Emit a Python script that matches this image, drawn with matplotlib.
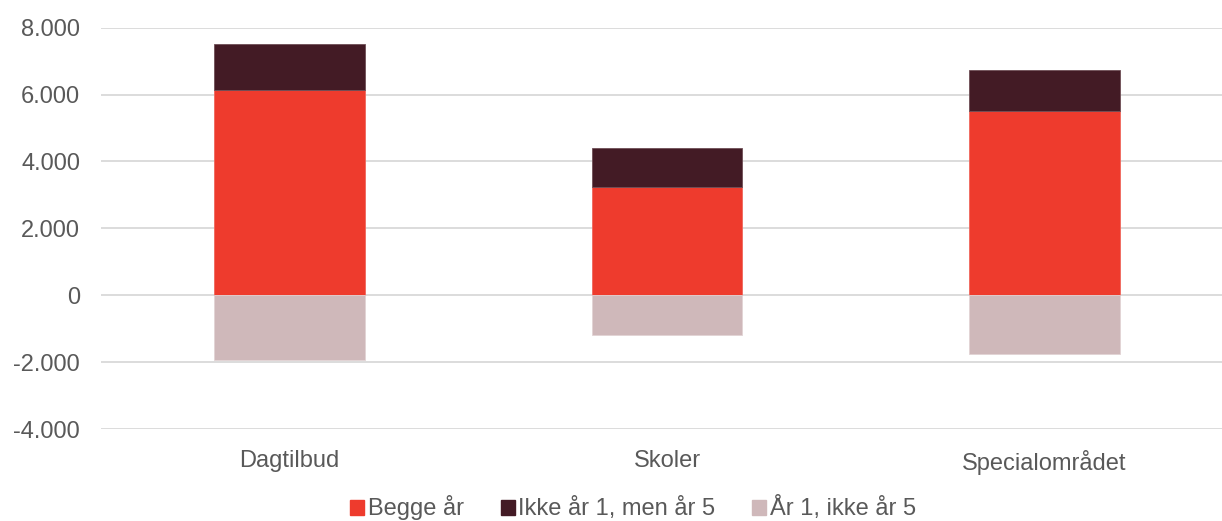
import numpy as np
import matplotlib.pyplot as plt
from matplotlib.patches import Patch

plt.rcParams['font.family'] = ['Liberation Sans', 'DejaVu Sans']

categories = ['Dagtilbud', 'Skoler', 'Specialområdet']
begge = [6120, 3240, 5510]            # Begge år
ikke_1_men_5 = [1385, 1155, 1210]     # Ikke år 1, men år 5
aar1_ikke_5 = [-1935, -1175, -1745]   # År 1, ikke år 5
yticks = [-4000, -2000, 0, 2000, 4000, 6000, 8000]
ytick_labels = ['-4.000', '-2.000', '0', '2.000', '4.000', '6.000', '8.000']

c_red = '#EE3B2D'
c_dark = '#431B25'
c_pink = '#CFB8BA'
c_text = '#595959'

fig = plt.figure(figsize=(12.22, 5.21), dpi=100)
ax = fig.add_axes([101 / 1222, 92 / 521, 1 - 101 / 1222, (429 - 27.6) / 521])

x = np.arange(len(categories))
w = 0.4
ax.bar(x, begge, w, color=c_red, edgecolor='#F0675C', linewidth=0.6, zorder=3)
ax.bar(x, ikke_1_men_5, w, bottom=begge, color=c_dark, edgecolor='#6E4E56', linewidth=0.6, zorder=3)
ax.bar(x, aar1_ikke_5, w, color=c_pink, edgecolor='#E2D3D4', linewidth=0.6, zorder=3)

ax.set_ylim(-4000, 8000)
ax.set_xlim(-0.5, 2.471)
ax.set_yticks(yticks)
ax.set_yticklabels(ytick_labels)
ax.set_xticks(x)
ax.set_xticklabels(categories)
ax.grid(axis='y', color='#D9D9D9', linewidth=1.3, zorder=0)
for s in ax.spines.values():
    s.set_visible(False)
ax.tick_params(axis='both', length=0, labelsize=17, colors=c_text)
ax.tick_params(axis='x', pad=15)
ax.tick_params(axis='y', pad=15)

handles = [Patch(color=c_red, label='Begge år'),
           Patch(color=c_dark, label='Ikke år 1, men år 5'),
           Patch(color=c_pink, label='År 1, ikke år 5')]
fig.legend(handles=handles, loc='center', bbox_to_anchor=(0.518, 0.025), ncol=3,
           frameon=False, fontsize=17, handlelength=0.6, handleheight=0.6,
           handletextpad=0.15, columnspacing=1.55, labelcolor=c_text)

fig.savefig('out.png', dpi=100)
